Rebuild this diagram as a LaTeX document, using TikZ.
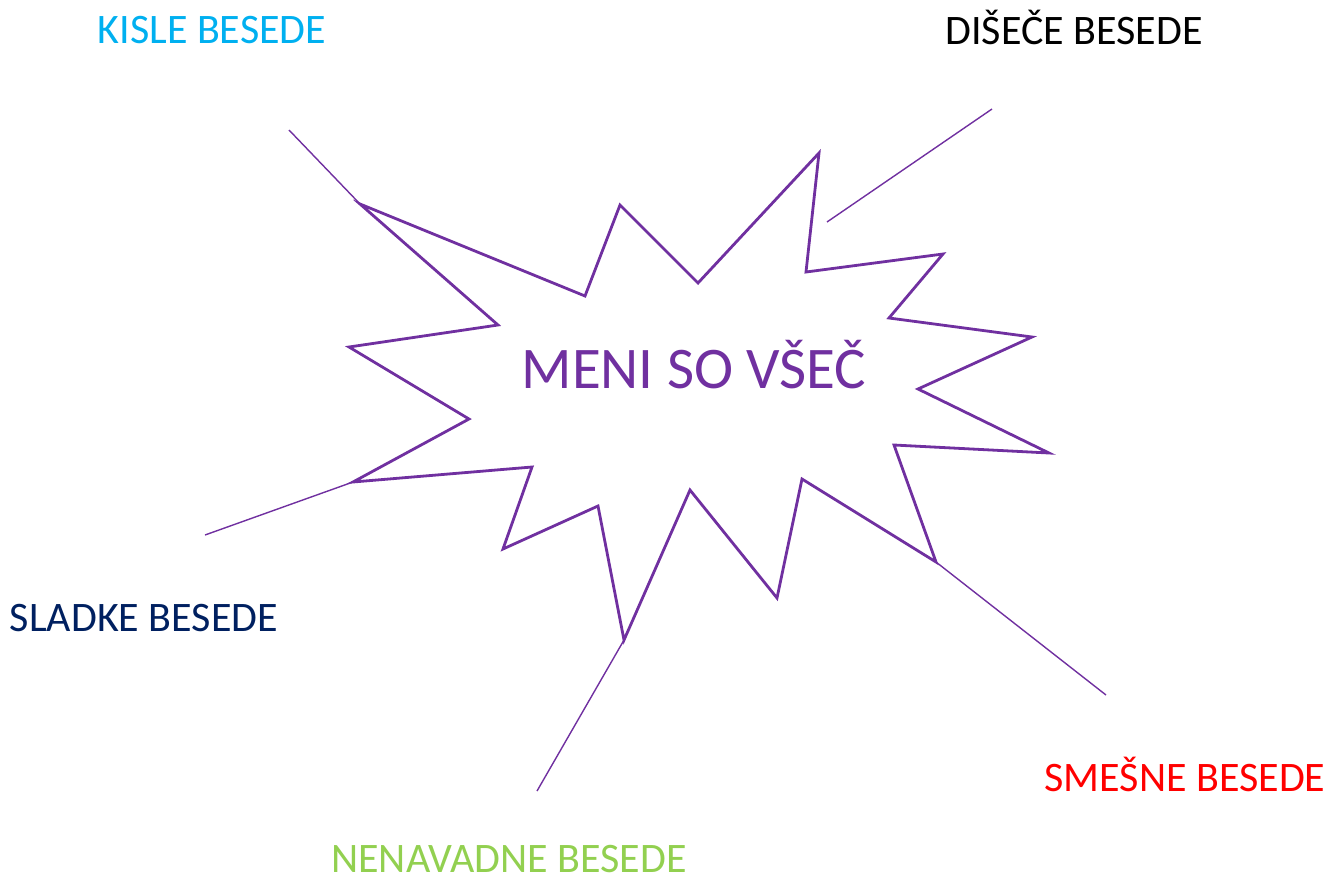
\documentclass[tikz,border=0pt]{standalone}
\usepackage{fontspec}
\setmainfont{Carlito}
\definecolor{kcyan}{HTML}{00B0F0}
\definecolor{knavy}{HTML}{002060}
\definecolor{kgreen}{HTML}{92D050}
\definecolor{kred}{HTML}{FF0000}
\definecolor{kpurple}{HTML}{7030A0}
\tikzset{
  starline/.style={draw=kpurple, line width=2.8pt, line join=miter, miter limit=20},
  conn/.style={draw=kpurple, line width=1.4pt},
  lbl/.style={anchor=base, inner sep=0pt, text depth=0pt, font=\fontsize{42}{46}\selectfont},
  title/.style={anchor=base, inner sep=0pt, text depth=0pt, text=kpurple, font=\fontsize{59}{63}\selectfont}
}
\begin{document}
\begin{tikzpicture}[x=1pt,y=-1pt]
\useasboundingbox (0,0) rectangle (1330,879);
% star vertices
\coordinate (p1) at (360,204);
\coordinate (p2) at (585,296);
\coordinate (p3) at (620,205);
\coordinate (p4) at (698,283);
\coordinate (p5) at (819,153);
\coordinate (p6) at (806,272);
\coordinate (p7) at (943,254);
\coordinate (p8) at (889,318);
\coordinate (p9) at (1032,337);
\coordinate (p10) at (918,389);
\coordinate (p11) at (1049,453);
\coordinate (p12) at (894,445);
\coordinate (p13) at (936,562);
\coordinate (p14) at (802,479);
\coordinate (p15) at (777,598);
\coordinate (p16) at (690,490);
\coordinate (p17) at (624,640);
\coordinate (p18) at (598,506);
\coordinate (p19) at (503,549);
\coordinate (p20) at (532,467);
\coordinate (p21) at (353,482);
\coordinate (p22) at (469,419);
\coordinate (p23) at (349,347);
\coordinate (p24) at (498,325);
\draw[starline] (p1)--(p2)--(p3)--(p4)--(p5)--(p6)--(p7)--(p8)--(p9)--(p10)--(p11)--(p12)--(p13)--(p14)--(p15)--(p16)--(p17)--(p18)--(p19)--(p20)--(p21)--(p22)--(p23)--(p24)--cycle;
% connector free ends
\coordinate (e1) at (289,130);
\coordinate (e2a) at (992,109);
\coordinate (e2b) at (827,222);
\coordinate (e3) at (205,535);
\coordinate (e4) at (537,791);
\coordinate (e5) at (1106,695);
\draw[conn] (e1) -- (p1);
\draw[conn] (e2a) -- (e2b);
\draw[conn] (e3) -- (p21);
\draw[conn] (p17) -- (e4);
\draw[conn] (p13) -- (e5);
% labels
\node[title] (center) at (694,388) {MENI SO VŠEČ};
\node[lbl, text=kcyan] (kisle) at (212,43) {KISLE BESEDE};
\node[lbl, text=black] (disece) at (1074,44) {DIŠEČE BESEDE};
\node[lbl, text=knavy] (sladke) at (144,631) {SLADKE BESEDE};
\node[lbl, text=kgreen] (nenavadne) at (509,872) {NENAVADNE BESEDE};
\node[lbl, text=kred] (smesne) at (1185,791) {SMEŠNE BESEDE};
\end{tikzpicture}
\end{document}
